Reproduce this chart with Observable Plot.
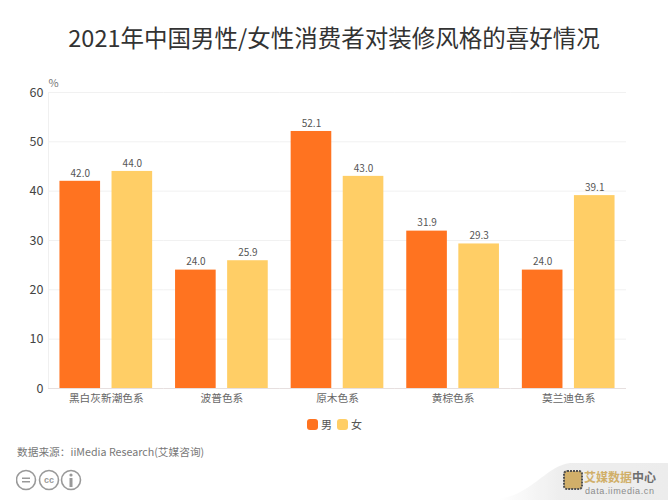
<!DOCTYPE html>
<html><head><meta charset="utf-8">
<script src="https://cdn.jsdelivr.net/npm/d3@7"></script>
<script src="https://cdn.jsdelivr.net/npm/@observablehq/plot@0.6"></script>
<style>
html,body{margin:0;padding:0;background:#fff;width:668px;height:500px;overflow:hidden;font-family:"Noto Sans CJK SC","Noto Sans",sans-serif}
#title{position:absolute;left:0;top:19px;width:668px;text-align:center;font-size:23.5px;line-height:36px;color:#333}
#chart{position:absolute;left:0;top:70px}
#legend{position:absolute;left:307px;top:415px;display:flex;gap:5px;font-size:11px;line-height:18px;color:#555}
#legend span{display:flex;align-items:center;gap:3px}
#legend i{display:inline-block;width:11px;height:11px;border-radius:3px}
#source{position:absolute;left:17px;top:443px;font-size:10.7px;line-height:18px;color:#777}
#cc{position:absolute;left:16px;top:469px}
#mark{position:absolute;left:500px;top:460px;opacity:.85}
</style></head><body>
<div id="title">2021年中国男性/女性消费者对装修风格的喜好情况</div>
<div id="chart"></div>
<div id="legend"></div>
<div id="source">数据来源：iiMedia Research(艾媒咨询)</div>
<svg id="cc" width="70" height="26" fill="none" stroke="#999" stroke-width="1.6">
  <circle cx="10" cy="11" r="9.5"/><path d="M6 9.2h8M6 12.8h8"/>
  <circle cx="33" cy="11" r="9.5"/>
  <text x="33" y="14" text-anchor="middle" font-size="9" font-weight="700" fill="#999" stroke="none" font-family="Liberation Sans">cc</text>
  <circle cx="55" cy="11" r="9.5"/><circle cx="55" cy="6" r="1.6" fill="#999" stroke="none"/><path d="M55 9v9" stroke-width="3"/>
</svg>
<svg id="mark" width="168" height="40">
  <defs><linearGradient id="g" x1="0" x2="1" y1="0" y2="0"><stop offset="0" stop-color="#fff"/><stop offset=".35" stop-color="#ececec"/><stop offset="1" stop-color="#e9e9e9"/></linearGradient></defs>
  <path d="M0 38C30 36 46 6 70 3H168V40H0Z" fill="url(#g)"/>
  <rect x="64" y="11" width="18" height="18" rx="3" fill="#c9a24f" stroke="#333" stroke-width="2" stroke-dasharray="2 1"/>
  <text x="84" y="22" font-size="12" font-weight="700" fill="#c9a24f">艾媒数据<tspan fill="#555">中心</tspan></text>
  <text x="85" y="34" font-size="9" fill="#777" letter-spacing=".6" font-family="Liberation Sans">data.iimedia.cn</text>
</svg>
<script>
const categories = ["黑白灰新潮色系","波普色系","原木色系","黄棕色系","莫兰迪色系"];
const seriesNames = ["男","女"];
const maleValues = [42.0,24.0,52.1,31.9,24.0];
const femaleValues = [44.0,25.9,43.0,29.3,39.1];
const colors = ["#ff7320","#ffce66"];
const yTicks = [0,10,20,30,40,50,60];

const rows = categories.flatMap((c,i)=>[
  {category:c,series:seriesNames[0],value:maleValues[i]},
  {category:c,series:seriesNames[1],value:femaleValues[i]}
]);

const plot = Plot.plot({
  width:668,height:340,
  marginTop:22,marginBottom:22,marginLeft:48,marginRight:42,
  style:{background:"transparent",fontFamily:'"Noto Sans CJK SC","Noto Sans",sans-serif'},
  fx:{domain:categories,padding:0,round:false,label:null},
  x:{domain:seriesNames,paddingInner:.22,paddingOuter:.22,round:false,axis:null},
  y:{domain:[0,60],ticks:yTicks,label:null},
  color:{domain:seriesNames,range:colors},
  marks:[
    Plot.ruleY(yTicks.slice(1),{stroke:"#f1f1f1",strokeWidth:1,strokeOpacity:1}),
    Plot.barY(rows,{fx:"category",x:"series",y:"value",fill:"series"}),
    Plot.text(rows,{fx:"category",x:"series",y:"value",text:d=>d.value.toFixed(1),dy:-8,fontSize:10,fill:"#555"}),
    Plot.ruleY([0],{stroke:"#e6dfdf",strokeWidth:1}),
    Plot.axisY({ticks:yTicks,tickSize:0,tickPadding:5,fontSize:12.5,color:"#444",label:null}),
    Plot.axisFx({anchor:"bottom",tickSize:0,tickPadding:6,fontSize:10.7,color:"#666",label:null}),
    Plot.text(["%"],{fx:()=>categories[0],frameAnchor:"top-left",dy:-13,fontSize:11,fill:"#777"})
  ]
});
document.getElementById("chart").append(plot);

// faint vertical axis line along the left edge of the frame
d3.select(plot).append("line").attr("x1",48.5).attr("x2",48.5).attr("y1",22).attr("y2",318).attr("stroke","#f0f0f0").lower();

const lg = document.getElementById("legend");
seriesNames.forEach((n,i)=>{
  const s=document.createElement("span");
  s.innerHTML=`<i style="background:${colors[i]}"></i>${n}`;
  lg.append(s);
});
</script>
</body></html>
